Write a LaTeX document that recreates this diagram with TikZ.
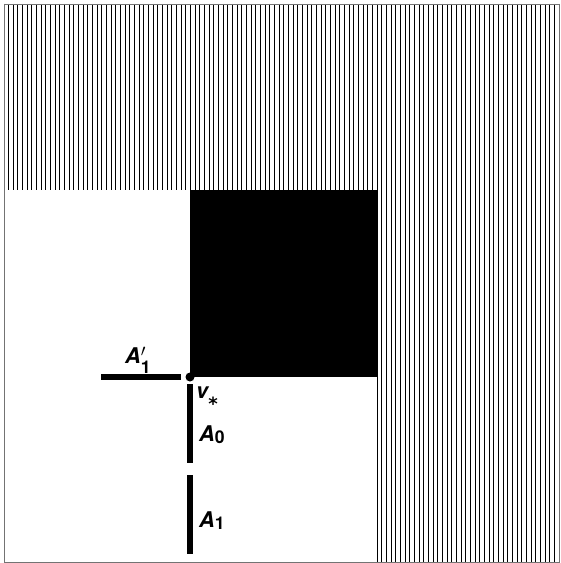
\documentclass[tikz,border=0pt]{standalone}
\usepackage{fontspec}
\setmainfont{TeX Gyre Heros}
\newfontfamily\astfont{DejaVu Sans}
\newcommand{\lblsub}[2][-0.13em]{\raisebox{#1}{\fontsize{15}{15}\selectfont #2}}
\newcommand{\lblprime}{\rlap{\raisebox{0.3em}{\fontsize{14}{14}\selectfont$\prime$}}}
\newcommand{\lblast}{\raisebox{-10.8pt}{\astfont\fontsize{15.5}{15.5}\selectfont\bfseries\upshape *}}
\begin{document}
\begin{tikzpicture}[
  x=0.03cm, y=-0.03cm,
  font=\fontsize{18.5}{21}\selectfont\bfseries\itshape,
  hatch/.style={line width=0.85pt, draw=black},
  seg/.style={line width=4.3pt, draw=black},
  frame/.style={line width=0.6pt, draw=black!55},
  lbl/.style={inner sep=0pt, anchor=base west}
]
\useasboundingbox (0,0) rectangle (560,563);

% hatched strips (top and right)
\foreach \i in {0,...,119}
  \draw[hatch] ({4+\i*4.664},4) -- ({4+\i*4.664},190);
\foreach \i in {80,...,119}
  \draw[hatch] ({4+\i*4.664},190) -- ({4+\i*4.664},562);

% outer frame
\draw[frame] (4,4) rectangle (559,562);

% black block
\fill[black] (190,190) rectangle (377,377);

% the vertex and segments
\coordinate (v) at (190,377);
\coordinate (a1pw) at (101,377);
\coordinate (a1pe) at (181,377);
\coordinate (a0n) at (190,384);
\coordinate (a0s) at (190,463);
\coordinate (a1n) at (190,475);
\coordinate (a1s) at (190,554);

\draw[seg] (a1pw) -- (a1pe);
\draw[seg] (a0n) -- (a0s);
\draw[seg] (a1n) -- (a1s);
\fill[black] (v) circle (4.5);

% labels
\node[lbl] (la1p) at (125,363) {A\lblprime\lblsub[-0.5em]{\upshape 1}};
\node[lbl] (lv) at (196,398) {v\lblast};
\node[lbl] (la0) at (199,441) {A\lblsub{\upshape 0}};
\node[lbl] (la1) at (199,527) {A\lblsub{\upshape 1}};
\end{tikzpicture}
\end{document}
